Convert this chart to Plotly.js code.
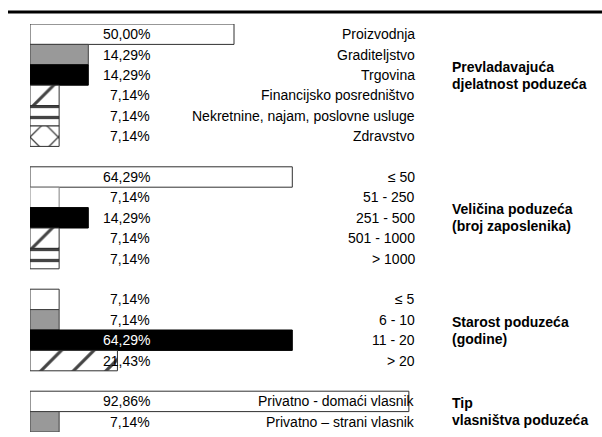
<!DOCTYPE html>
<html>
<head>
<meta charset="utf-8">
<script src="https://cdn.plot.ly/plotly-3.0.1.min.js"></script>
<style>html,body{margin:0;padding:0;background:#fff;}</style>
</head>
<body>
<div id="chart" style="width:602px;height:437px;"></div>
<script>
// ---- data ----
const categories1 = ['Proizvodnja', 'Graditeljstvo', 'Trgovina', 'Financijsko posredništvo', 'Nekretnine, najam, poslovne usluge', 'Zdravstvo'];
const values1 = [50.00, 14.29, 14.29, 7.14, 7.14, 7.14];
const categories2 = ['≤ 50', '51 - 250', '251 - 500', '501 - 1000', '> 1000'];
const values2 = [64.29, 7.14, 14.29, 7.14, 7.14];
const categories3 = ['≤ 5', '6 - 10', '11 - 20', '> 20'];
const values3 = [7.14, 7.14, 64.29, 21.43];
const categories4 = ['Privatno - domaći vlasnik', 'Privatno – strani vlasnik'];
const values4 = [92.86, 7.14];
const sectionTitles = [['Prevladavajuća', 'djelatnost poduzeća'], ['Veličina poduzeća', '(broj zaposlenika)'], ['Starost poduzeća', '(godine)'], ['Tip', 'vlasništva poduzeća']];

// ---- styles (per bar) ----
const S = {
  white: {color: '#ffffff', shape: '', size: 8, sol: 0.3, line: '#303030'},
  gray:  {color: '#999999', shape: '', size: 8, sol: 0.3, line: '#404040'},
  black: {color: '#000000', shape: '', size: 8, sol: 0.3, line: '#000000'},
  diag:  {color: '#ffffff', shape: '/', size: 20, sol: 0.15, line: '#303030'},
  diagW: {color: '#ffffff', shape: '/', size: 23, sol: 0.14, line: '#303030'},
  horiz: {color: '#ffffff', shape: '-', size: 11, sol: 0.3, line: '#303030'},
  cross: {color: '#ffffff', shape: 'x', size: 20, sol: 0.13, line: '#303030'},
  whiteG:{color: '#ffffff', shape: '', size: 8, sol: 0.3, line: '#808080'}
};
const styles1 = ['white', 'gray', 'black', 'diag', 'horiz', 'cross'];
const styles2 = ['white', 'whiteG', 'black', 'diag', 'horiz'];
const styles3 = ['white', 'gray', 'black', 'diagW'];
const styles4 = ['white', 'gray'];

const sections = [
  {cats: categories1, vals: values1, styles: styles1},
  {cats: categories2, vals: values2, styles: styles2},
  {cats: categories3, vals: values3, styles: styles3},
  {cats: categories4, vals: values4, styles: styles4}
];

// build combined arrays with spacer rows between sections
const ys = [], xs = [], st = [];
const titleRows = [];
sections.forEach((sec, i) => {
  if (i > 0) { ys.push(' '.repeat(i)); xs.push(null); st.push('white'); }
  const start = ys.length;
  sec.cats.forEach((c, j) => { ys.push(c); xs.push(sec.vals[j]); st.push(sec.styles[j]); });
  titleRows.push(start + (sec.cats.length - 1) / 2);
});
// section 1 title sits at the third row
titleRows[0] = 2;

const fmt = v => v.toFixed(2).replace('.', ',') + '%';

const trace = {
  type: 'bar',
  orientation: 'h',
  y: ys,
  x: xs,
  width: 1,
  hoverinfo: 'none',
  marker: {
    color: st.map(s => S[s].color),
    line: {color: st.map(s => S[s].line), width: 1},
    pattern: {
      shape: st.map(s => S[s].shape),
      size: st.map(s => S[s].size),
      solidity: st.map(s => S[s].sol),
      fgcolor: '#000000',
      fgopacity: 1,
      bgcolor: '#ffffff',
      fillmode: 'overlay'
    }
  },
  showlegend: false
};

const annotations = [];
const valX = (152 - 30) / 408;
const catX = (417 - 30) / 408;
const titleX = (450 - 30) / 408;
ys.forEach((c, k) => {
  if (xs[k] === null) return;
  const onBlack = S[st[k]].color === '#000000' && xs[k] > 30;
  annotations.push({xref: 'paper', yref: 'y', x: valX, y: c, text: fmt(xs[k]),
    xanchor: 'right', yanchor: 'middle', showarrow: false,
    font: {size: 14, color: onBlack ? '#ffffff' : '#000000'}});
  annotations.push({xref: 'paper', yref: 'y', x: catX, y: c, text: c,
    xanchor: 'right', yanchor: 'middle', showarrow: false,
    font: {size: 14, color: '#000000'}});
});
sectionTitles.forEach((lines, i) => {
  lines.forEach((t, j) => {
    annotations.push({xref: 'paper', yref: 'y', x: titleX, y: titleRows[i], text: '<b>' + t + '</b>',
      xanchor: 'left', yanchor: 'middle', align: 'left', showarrow: false,
      yshift: j === 0 ? 8.5 : -8.5,
      font: {size: 14, color: '#000000'}});
  });
});

const layout = {
  width: 602, height: 437,
  margin: {l: 30, r: 164, t: 24, b: 5, pad: 0},
  paper_bgcolor: '#ffffff', plot_bgcolor: '#ffffff',
  font: {family: 'Liberation Sans, Arial, sans-serif', size: 14, color: '#000'},
  bargap: 0,
  xaxis: {range: [0, 100], visible: false, fixedrange: true},
  yaxis: {type: 'category', categoryorder: 'array', categoryarray: ys,
          range: [ys.length - 0.5, -0.5], visible: false, fixedrange: true},
  annotations: annotations,
  shapes: [{type: 'line', xref: 'paper', yref: 'paper',
            x0: (8 - 30) / 408, x1: (602 - 30) / 408,
            y0: 1 + 12 / 408, y1: 1 + 12 / 408,
            line: {color: '#000000', width: 3}}]
};

Plotly.newPlot('chart', [trace], layout, {displayModeBar: false, staticPlot: true});
</script>
</body>
</html>
